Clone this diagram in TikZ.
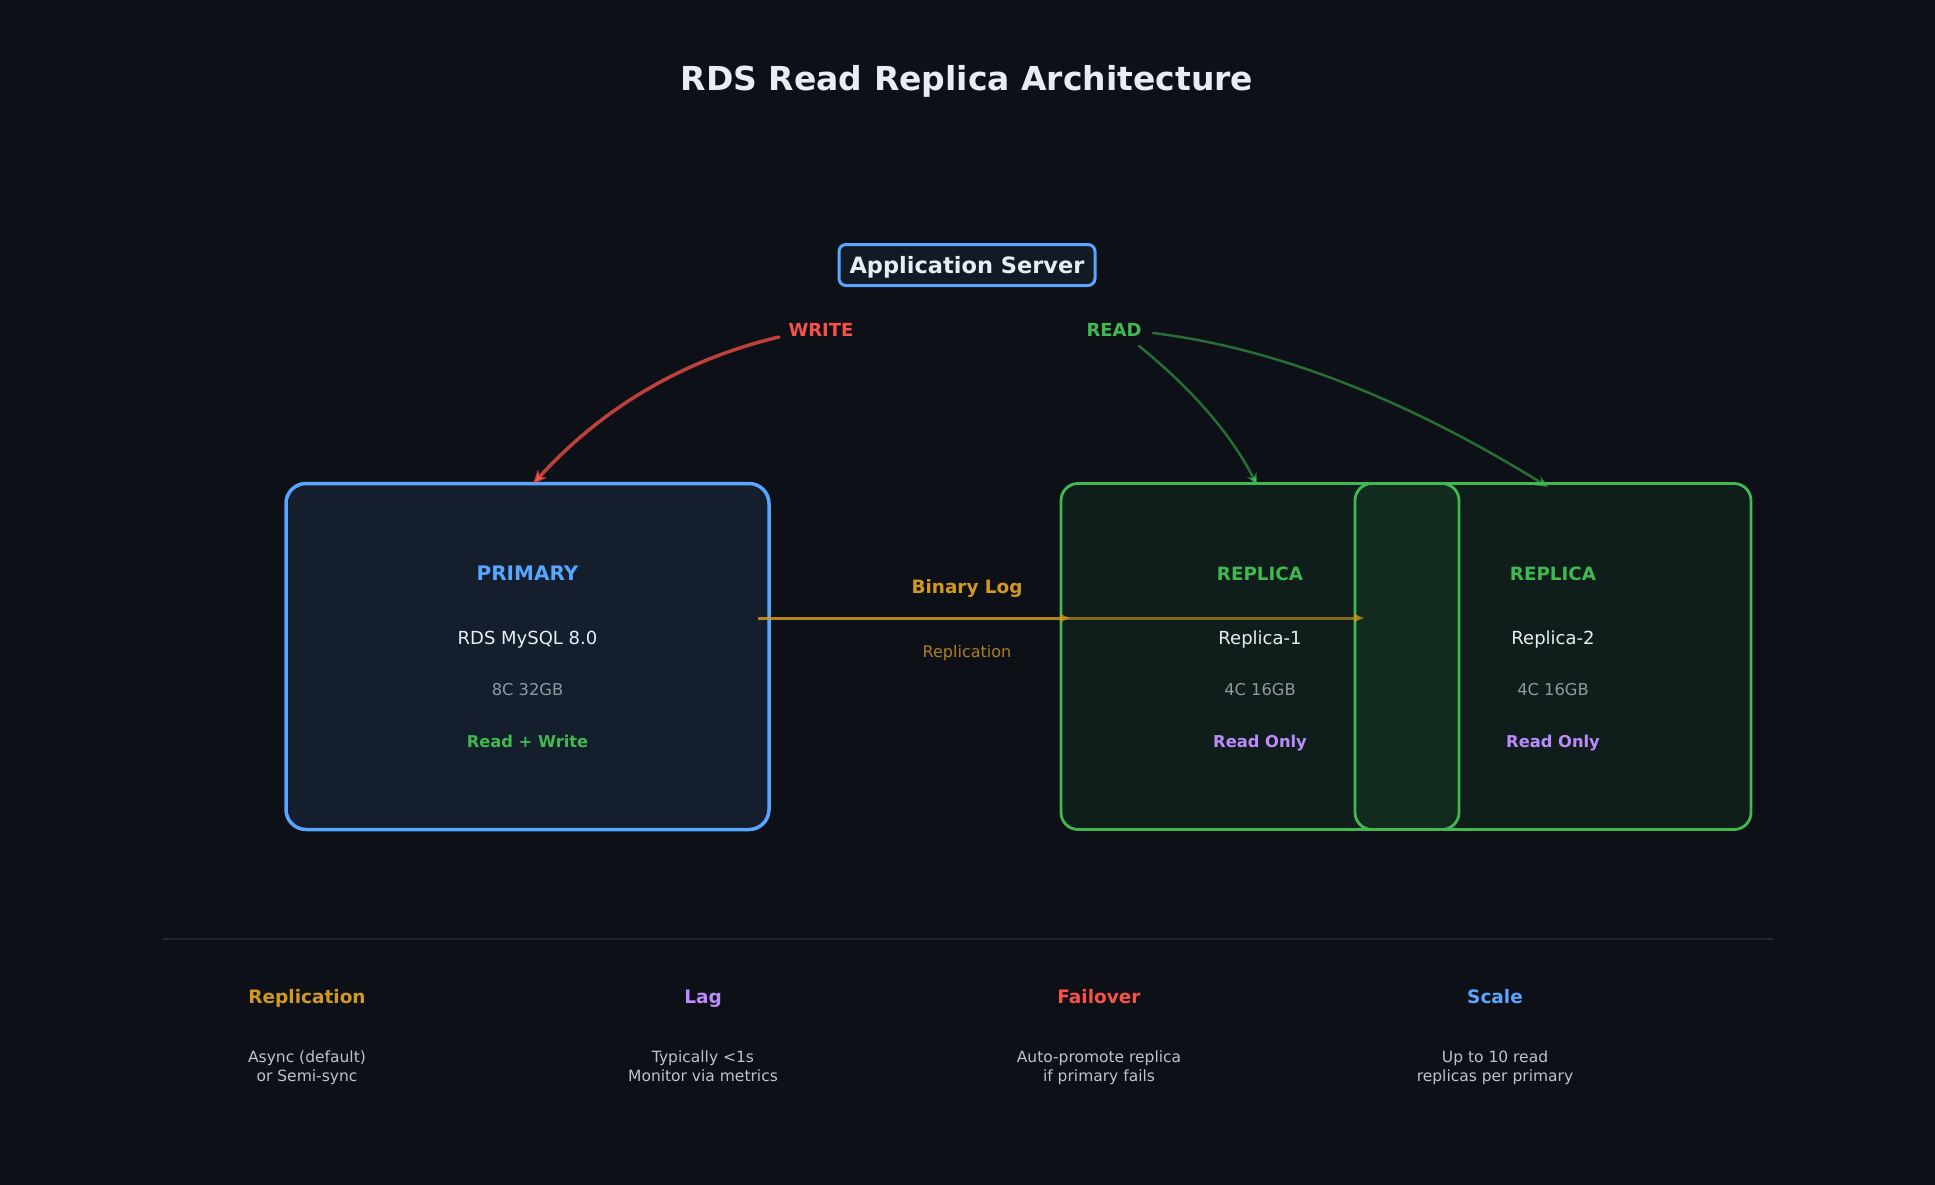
\documentclass[tikz,border=0pt]{standalone}
\usepackage{fontspec}
\setmainfont{DejaVu Sans}
\usetikzlibrary{arrows.meta}
\definecolor{bg}{HTML}{0D1117}
\definecolor{fg}{HTML}{E6EDF3}
\definecolor{cblue}{HTML}{58A6FF}
\definecolor{cgreen}{HTML}{3FB950}
\definecolor{cred}{HTML}{F85149}
\definecolor{corange}{HTML}{D29922}
\definecolor{cpurple}{HTML}{BC8CFF}
\definecolor{cgray}{HTML}{9198A1}
\definecolor{cdesc}{HTML}{BCC3CB}
\definecolor{csep}{HTML}{21262D}
\definecolor{pfill}{HTML}{141E2C}
\definecolor{afill}{HTML}{131A25}
\begin{document}
\begin{tikzpicture}[x=1pt,y=-1pt,
  tx/.style 2 args={inner sep=0pt, font=\fontsize{#1}{#1}\selectfont, text height=#2pt, text depth=0pt},
  txb/.style 2 args={inner sep=0pt, font=\fontsize{#1}{#1}\selectfont\bfseries, text height=#2pt, text depth=0pt},
  appbox/.style={draw=cblue, line width=3pt, rounded corners=7pt, fill=afill, minimum width=256pt, minimum height=41pt, inner sep=0pt, text=fg, font=\fontsize{22.5}{22.5}\selectfont\bfseries, text height=16.4pt, text depth=0pt},
  pbox/.style={draw=cblue, line width=3.5pt, rounded corners=20pt, fill=pfill, minimum width=483pt, minimum height=346pt, inner sep=0pt},
  rbox/.style={draw=cgreen, line width=2.8pt, rounded corners=17pt, fill=cgreen, fill opacity=0.08, minimum width=398pt, minimum height=346pt, inner sep=0pt},
  barrow/.style={draw=corange, line width=3pt, opacity=0.6, -{Latex[length=11pt,width=10pt]}},
  warrow/.style={draw=cred, draw opacity=0.75, line width=3.5pt, line cap=round, -{Stealth[length=14pt,width=12pt,inset=4pt]}},
  rarrow/.style={draw=cgreen, draw opacity=0.55, line width=2.5pt, line cap=round, -{Stealth[length=12pt,width=11pt,inset=4pt]}},
]
\useasboundingbox[fill=bg] (0,0) rectangle (1935,1185);

% title
\node[txb={33}{24}, text=fg] (title) at (967,79) {RDS Read Replica Architecture};

% application server
\node[appbox] (app) at (967,265) {Application Server};
\node[txb={18}{13.1}, text=cred] (write) at (821,330) {WRITE};
\node[txb={18}{13.1}, text=cgreen] (read) at (1114,330) {READ};

% boxes
\node[pbox] (primary) at (527.5,656.5) {};
\node[rbox] (rep1) at (1260,656.5) {};
\node[rbox, minimum width=396pt] (rep2) at (1553,656.5) {};

% primary texts
\node[txb={20}{14.6}, text=cblue] (ptitle) at (527.5,573) {PRIMARY};
\node[tx={18}{13.1}, text=fg] (pname) at (527.5,638) {RDS MySQL 8.0};
\node[tx={16.3}{11.9}, text=cgray] (pspec) at (527.5,690) {8C 32GB};
\node[txb={16.3}{11.9}, text=cgreen] (prole) at (527.5,742) {Read + Write};

% replica 1 texts
\node[txb={18.3}{13.4}, text=cgreen] (r1title) at (1260,574) {REPLICA};
\node[tx={18}{13.1}, text=fg] (r1name) at (1260,638) {Replica-1};
\node[tx={16.3}{11.9}, text=cgray] (r1spec) at (1260,690) {4C 16GB};
\node[txb={16.3}{11.9}, text=cpurple] (r1role) at (1260,742) {Read Only};

% replica 2 texts
\node[txb={18.3}{13.4}, text=cgreen] (r2title) at (1553,574) {REPLICA};
\node[tx={18}{13.1}, text=fg] (r2name) at (1553,638) {Replica-2};
\node[tx={16.3}{11.9}, text=cgray] (r2spec) at (1553,690) {4C 16GB};
\node[txb={16.3}{11.9}, text=cpurple] (r2role) at (1553,742) {Read Only};

% binary log arrows
\coordinate (b0) at (758,618);
\coordinate (b1) at (1071,618);
\coordinate (b2) at (1365,618);
\draw[barrow] (b0) -- (b2);
\draw[barrow] (b0) -- (b1);
\node[txb={18.4}{13.4}, text=corange] (binlog) at (967,587) {Binary Log};
\node[tx={16}{11.7}, text=corange!80!bg] (repl) at (967,651.5) {Replication};

% write arrow
\coordinate (w0) at (779,337);
\coordinate (w1) at (533,484);
\draw[warrow] (w0) .. controls (682,360) and (601,409) .. (w1);

% read arrows
\coordinate (rr0) at (1139,346);
\coordinate (rr1) at (1257,485);
\draw[rarrow] (rr0) .. controls (1192,389) and (1231,434) .. (rr1);
\coordinate (rr2) at (1153,333);
\coordinate (rr3) at (1548,487);
\draw[rarrow] (rr2) .. controls (1275,348) and (1406,399) .. (rr3);

% separator
\coordinate (s0) at (163,939);
\coordinate (s1) at (1773,939);
\draw[draw=csep, line width=2pt] (s0) -- (s1);

% bottom notes
\node[txb={18.5}{13.5}, text=corange] (n1t) at (307,997) {Replication};
\node[tx={15.5}{11.3}, text=cdesc] (n1a) at (307,1057) {Async (default)};
\node[tx={15.5}{11.3}, text=cdesc] (n1b) at (307,1075.5) {or Semi-sync};

\node[txb={18.5}{13.5}, text=cpurple] (n2t) at (703,997) {Lag};
\node[tx={15.5}{11.3}, text=cdesc] (n2a) at (703,1057) {Typically <1s};
\node[tx={15.5}{11.3}, text=cdesc] (n2b) at (703,1075.5) {Monitor via metrics};

\node[txb={18.5}{13.5}, text=cred] (n3t) at (1099,997) {Failover};
\node[tx={15.5}{11.3}, text=cdesc] (n3a) at (1099,1057) {Auto-promote replica};
\node[tx={15.5}{11.3}, text=cdesc] (n3b) at (1099,1075.5) {if primary fails};

\node[txb={18.5}{13.5}, text=cblue] (n4t) at (1495,997) {Scale};
\node[tx={15.5}{11.3}, text=cdesc] (n4a) at (1495,1057) {Up to 10 read};
\node[tx={15.5}{11.3}, text=cdesc] (n4b) at (1495,1075.5) {replicas per primary};
\end{tikzpicture}
\end{document}
